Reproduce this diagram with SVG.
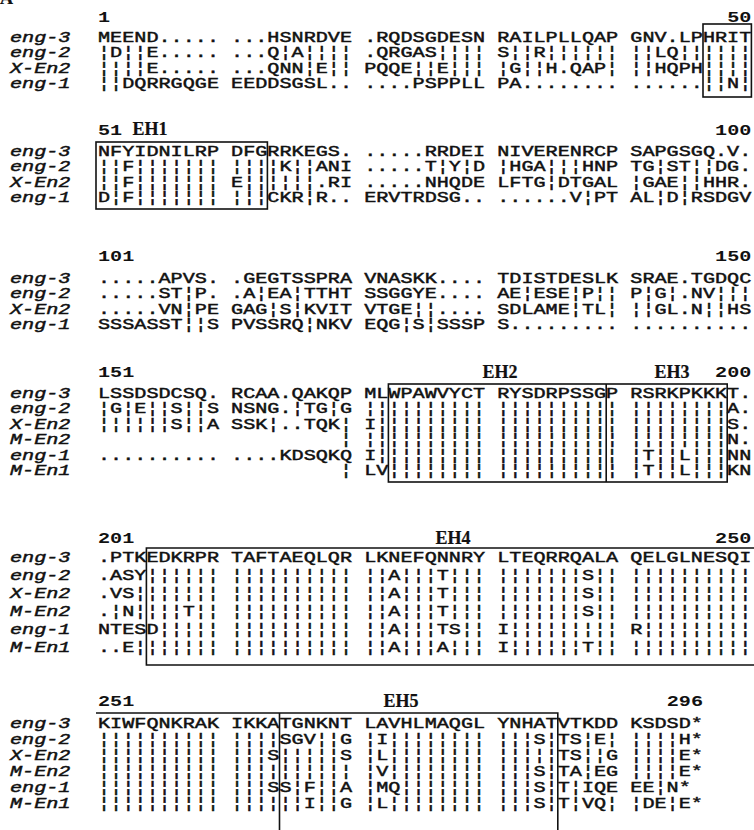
<svg xmlns="http://www.w3.org/2000/svg" width="754" height="830" viewBox="0 0 754 830">
<style>
text{font-family:"Liberation Mono","DejaVu Sans Mono",monospace;font-size:15px;fill:#111;stroke:#111;stroke-width:0.45;white-space:pre}
.n{font-weight:bold;stroke-width:0}
.l{font-style:italic}
.r{text-anchor:end}
.eh{font-family:"Liberation Serif","Times New Roman",serif;font-weight:bold;font-size:18px;text-anchor:middle;stroke-width:0.2}
.box{fill:none;stroke:#111;stroke-width:1.6}
</style>
<rect width="754" height="830" fill="#fff"/>
<text x="0" y="4" class="eh" style="text-anchor:start">A</text>

<g id="block1">
<g transform="translate(98 0) scale(1.34444 1)">
<text class="n" x="0" y="22">1</text>
<text class="n r" x="486" y="22">50</text>
<text class="l" x="-65.5" y="42">eng-3</text>
<text class="l" x="-65.5" y="57.5">eng-2</text>
<text class="l" x="-65.5" y="73">X-En2</text>
<text class="l" x="-65.5" y="88.5">eng-1</text>
<text x="0" y="42">MEEND..... ...HSNRDVE .RQDSGDESN RAILPLLQAP GNV.LPHRIT</text>
<text x="0" y="57.5">¦D¦¦E..... ...Q¦A¦¦¦¦ .QRGAS¦¦¦¦ S¦¦R¦¦¦¦¦¦ ¦¦LQ¦¦¦¦¦¦</text>
<text x="0" y="73">¦¦¦¦E..... ...QNN¦E¦¦ PQQE¦¦E¦¦¦ ¦G¦¦H.QAP¦ ¦¦HQPH¦¦¦¦</text>
<text x="0" y="88.5">¦¦DQRRGQGE EEDDSGSL.. ....PSPPLL PA........ ......¦¦N¦</text>
</g>
<rect class="box" x="703" y="24" width="48.4" height="73"/>
</g>

<g id="block2">
<g transform="translate(98 0) scale(1.34444 1)">
<text class="n" x="0" y="135">51</text>
<text class="n r" x="486" y="135">100</text>
<text class="l" x="-65.5" y="156">eng-3</text>
<text class="l" x="-65.5" y="171.5">eng-2</text>
<text class="l" x="-65.5" y="187">X-En2</text>
<text class="l" x="-65.5" y="202.5">eng-1</text>
<text x="0" y="156">NFYIDNILRP DFGRRKEGS. .....RRDEI NIVERENRCP SAPGSGQ.V.</text>
<text x="0" y="171.5">¦¦F¦¦¦¦¦¦¦ ¦¦¦¦K¦¦ANI .....T¦Y¦D ¦HGA¦¦¦HNP TG¦ST¦¦DG.</text>
<text x="0" y="187">¦¦F¦¦¦¦¦¦¦ E¦¦¦¦¦¦.RI .....NHQDE LFTG¦DTGAL ¦GAE¦¦HHR.</text>
<text x="0" y="202.5">D¦F¦¦¦¦¦¦¦ ¦¦¦CKR¦R.. ERVTRDSG.. ......V¦PT AL¦D¦RSDGV</text>
</g>
<text class="eh" x="150" y="135">EH1</text>
<rect class="box" x="96" y="142" width="171.4" height="67"/>
</g>

<g id="block3">
<g transform="translate(98 0) scale(1.34444 1)">
<text class="n" x="0" y="261">101</text>
<text class="n r" x="486" y="261">150</text>
<text class="l" x="-65.5" y="283">eng-3</text>
<text class="l" x="-65.5" y="298.5">eng-2</text>
<text class="l" x="-65.5" y="314">X-En2</text>
<text class="l" x="-65.5" y="329.5">eng-1</text>
<text x="0" y="283">.....APVS. .GEGTSSPRA VNASKK.... TDISTDESLK SRAE.TGDQC</text>
<text x="0" y="298.5">.....ST¦P. .A¦EA¦TTHT SSGGYE.... AE¦ESE¦P¦¦ P¦G¦.NV¦¦¦</text>
<text x="0" y="314">.....VN¦PE GAG¦S¦KVIT VTGE¦¦.... SDLAME¦TL¦ ¦¦GL.N¦¦HS</text>
<text x="0" y="329.5">SSSASST¦¦S PVSSRQ¦NKV EQG¦S¦SSSP S......... ..........</text>
</g>
</g>

<g id="block4">
<g transform="translate(98 0) scale(1.34444 1)">
<text class="n" x="0" y="377">151</text>
<text class="n r" x="486" y="377">200</text>
<text class="l" x="-65.5" y="398">eng-3</text>
<text class="l" x="-65.5" y="413.5">eng-2</text>
<text class="l" x="-65.5" y="429">X-En2</text>
<text class="l" x="-65.5" y="444.5">M-En2</text>
<text class="l" x="-65.5" y="460">eng-1</text>
<text class="l" x="-65.5" y="475.5">M-En1</text>
<text x="0" y="398">LSSDSDCSQ. RCAA.QAKQP MLWPAWVYCT RYSDRPSSGP RSRKPKKKT.</text>
<text x="0" y="413.5">¦G¦E¦¦S¦¦S NSNG.¦TG¦G ¦¦¦¦¦¦¦¦¦¦ ¦¦¦¦¦¦¦¦¦¦ ¦¦¦¦¦¦¦¦A.</text>
<text x="0" y="429">¦¦¦¦¦¦S¦¦A SSK¦..TQK¦ I¦¦¦¦¦¦¦¦¦ ¦¦¦¦¦¦¦¦¦¦ ¦¦¦¦¦¦¦¦S.</text>
<text x="180" y="444.5">¦ ¦¦¦¦¦¦¦¦¦¦ ¦¦¦¦¦¦¦¦¦¦ ¦¦¦¦¦¦¦¦N.</text>
<text x="0" y="460">.......... ....KDSQKQ I¦¦¦¦¦¦¦¦¦ ¦¦¦¦¦¦¦¦¦¦ ¦T¦¦L¦¦¦NN</text>
<text x="180" y="475.5">¦ LV¦¦¦¦¦¦¦¦ ¦¦¦¦¦¦¦¦¦¦ ¦T¦¦L¦¦¦KN</text>
</g>
<text class="eh" x="500" y="378">EH2</text>
<text class="eh" x="672" y="378">EH3</text>
<rect class="box" x="388.4" y="384" width="338.8" height="98"/>
<line class="box" x1="606.2" y1="384" x2="606.2" y2="482"/>
</g>

<g id="block5">
<g transform="translate(98 0) scale(1.34444 1)">
<text class="n" x="0" y="543">201</text>
<text class="n r" x="486" y="543">250</text>
<text class="l" x="-65.5" y="562">eng-3</text>
<text class="l" x="-65.5" y="580">eng-2</text>
<text class="l" x="-65.5" y="598">X-En2</text>
<text class="l" x="-65.5" y="616">M-En2</text>
<text class="l" x="-65.5" y="634">eng-1</text>
<text class="l" x="-65.5" y="652">M-En1</text>
<text x="0" y="562">.PTKEDKRPR TAFTAEQLQR LKNEFQNNRY LTEQRRQALA QELGLNESQI</text>
<text x="0" y="580">.ASY¦¦¦¦¦¦ ¦¦¦¦¦¦¦¦¦¦ ¦¦A¦¦¦T¦¦¦ ¦¦¦¦¦¦¦S¦¦ ¦¦¦¦¦¦¦¦¦¦</text>
<text x="0" y="598">.VS¦¦¦¦¦¦¦ ¦¦¦¦¦¦¦¦¦¦ ¦¦A¦¦¦T¦¦¦ ¦¦¦¦¦¦¦S¦¦ ¦¦¦¦¦¦¦¦¦¦</text>
<text x="0" y="616">.¦N¦¦¦¦T¦¦ ¦¦¦¦¦¦¦¦¦¦ ¦¦A¦¦¦T¦¦¦ ¦¦¦¦¦¦¦S¦¦ ¦¦¦¦¦¦¦¦¦¦</text>
<text x="0" y="634">NTESD¦¦¦¦¦ ¦¦¦¦¦¦¦¦¦¦ ¦¦A¦¦¦TS¦¦ I¦¦¦¦¦¦¦¦¦ R¦¦¦¦¦¦¦¦¦</text>
<text x="0" y="652">..E¦¦¦¦¦¦¦ ¦¦¦¦¦¦¦¦¦¦ ¦¦A¦¦¦A¦¦¦ I¦¦¦¦¦¦T¦¦ ¦¦¦¦¦¦¦¦¦¦</text>
</g>
<text class="eh" x="453" y="544">EH4</text>
<path class="box" d="M754 548 H146.4 V665 H754"/>
</g>

<g id="block6">
<g transform="translate(98 0) scale(1.34444 1)">
<text class="n" x="0" y="706">251</text>
<text class="n r" x="450" y="706">296</text>
<text class="l" x="-65.5" y="728">eng-3</text>
<text class="l" x="-65.5" y="744">eng-2</text>
<text class="l" x="-65.5" y="760">X-En2</text>
<text class="l" x="-65.5" y="776">M-En2</text>
<text class="l" x="-65.5" y="792">eng-1</text>
<text class="l" x="-65.5" y="808">M-En1</text>
<text x="0" y="728">KIWFQNKRAK IKKATGNKNT LAVHLMAQGL YNHATVTKDD KSDSD*</text>
<text x="0" y="744">¦¦¦¦¦¦¦¦¦¦ ¦¦¦¦SGV¦¦G ¦I¦¦¦¦¦¦¦¦ ¦¦¦S¦TS¦E¦ ¦¦¦¦H*</text>
<text x="0" y="760">¦¦¦¦¦¦¦¦¦¦ ¦¦¦S¦¦¦¦¦S ¦L¦¦¦¦¦¦¦¦ ¦¦¦¦¦TS¦¦G ¦¦¦¦E*</text>
<text x="0" y="776">¦¦¦¦¦¦¦¦¦¦ ¦¦¦¦¦¦¦¦¦¦ ¦V¦¦¦¦¦¦¦¦ ¦¦¦S¦TA¦EG ¦¦¦¦E*</text>
<text x="0" y="792">¦¦¦¦¦¦¦¦¦¦ ¦¦¦SS¦F¦¦A ¦MQ¦¦¦¦¦¦¦ ¦¦¦S¦T¦IQE EE¦N*</text>
<text x="0" y="808">¦¦¦¦¦¦¦¦¦¦ ¦¦¦¦¦¦I¦¦G ¦L¦¦¦¦¦¦¦¦ ¦¦¦S¦T¦VQ¦ ¦DE¦E*</text>
</g>
<text class="eh" x="401" y="707">EH5</text>
<path class="box" d="M96 713 H279.5 M279.5 830 V713 H557.8 V830"/>
</g>
</svg>
